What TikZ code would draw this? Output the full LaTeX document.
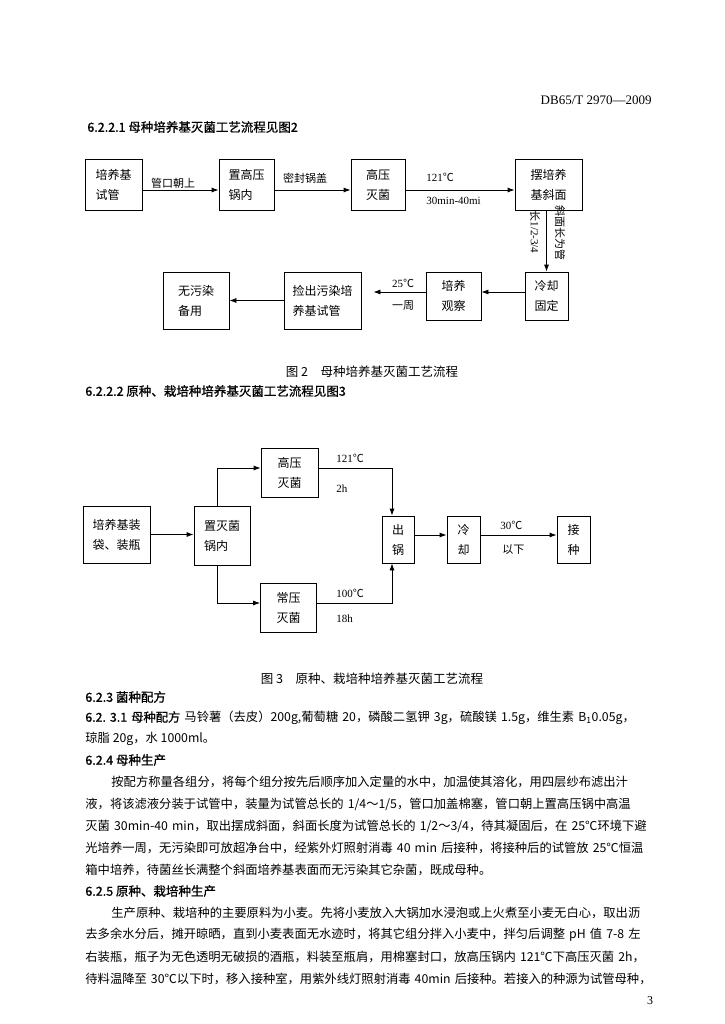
\documentclass[tikz,border=0pt]{standalone}
\usepackage{fontspec}
\setmainfont{Noto Sans CJK SC}
\newfontfamily\tmsfont{Liberation Serif}
\newfontfamily\hdfont{Noto Sans CJK SC}[FakeBold=1]
\usetikzlibrary{arrows.meta}
\XeTeXlinebreaklocale "zh"
\XeTeXlinebreakskip=0pt plus 3pt minus 1.5pt
\newcommand\boxfnt{\fontsize{12}{20}\selectfont}
\newcommand\lblfnt{\fontsize{11}{13}\selectfont}
\newcommand\headfnt{\hdfont\fontsize{12.5}{15}\selectfont}
\newcommand\bodyfnt{\fontsize{12.3}{22}\selectfont}
\newcommand\capfnt{\fontsize{12.5}{15}\selectfont}
\newcommand\tms[1]{{\tmsfont #1}}
\newcommand\jtext[1]{\parfillskip=0pt\noindent #1}

\begin{document}
\begin{tikzpicture}[
  x=1pt, y=-1pt,
  >={Latex[length=7pt,width=5pt]},
  line width=0.8pt,
  box/.style={draw, inner sep=0pt, align=left, font=\boxfnt},
  lbl/.style={inner sep=0pt, font=\lblfnt},
  vlbl/.style={lbl, rotate=-90},
  head/.style={anchor=west, inner sep=0pt, font=\headfnt},
  body/.style={anchor=west, inner sep=0pt, font=\bodyfnt},
  jline/.style={body, text width=567pt},
  figcap/.style={inner sep=0pt, font=\capfnt}
]
\fill[white] (0,0) rectangle (724,1024);
\useasboundingbox (0,0) rectangle (724,1024);

% Page header
\node[anchor=east, inner sep=0pt, font=\tmsfont\fontsize{13}{15}\selectfont] (docno) at (652,100) {DB65/T 2970—2009};
\node[head] (h1) at (87,127) {6.2.2.1 母种培养基灭菌工艺流程见图2};

% Figure 2
\node[box, minimum width=57pt, minimum height=51pt] (a1) at (113.5,184.5) {培养基\\试管};
\node[box, minimum width=55pt, minimum height=51pt] (a2) at (246.5,184.5) {置高压\\锅内};
\node[box, minimum width=54pt, minimum height=51pt] (a3) at (378,184.5) {高压\\灭菌};
\node[box, minimum width=67pt, minimum height=51pt] (a4) at (548.5,184.5) {摆培养\\基斜面};
\node[box, minimum width=43pt, minimum height=48pt] (a5) at (546.5,296) {冷却\\固定};
\node[box, minimum width=55pt, minimum height=48pt] (a6) at (453.5,296) {培养\\观察};
\node[box, minimum width=77pt, minimum height=57pt] (a7) at (322.5,300.5) {捡出污染培\\养基试管};
\node[box, minimum width=66pt, minimum height=57pt] (a8) at (196,300.5) {无污染\\备用};

\draw[->] ([yshift=-5.5pt]a1.east) -- ([yshift=-5.5pt]a2.west);
\draw[->] ([yshift=-5.5pt]a2.east) -- ([yshift=-5.5pt]a3.west);
\draw[->] ([yshift=-5.5pt]a3.east) -- ([yshift=-5.5pt]a4.west);
\draw[->] (a4.south -| a5.north) -- (a5.north);
\draw[->] ([yshift=4pt]a5.west) -- ([yshift=4pt]a6.east);
\draw[->, shorten >=12pt] ([yshift=4pt]a6.west) -- ([yshift=4pt]a6.west -| a7.east);
\draw[->] (a7.west) -- (a8.east);

\node[lbl] (l1) at (173,183) {管口朝上};
\node[lbl] (l2) at (305,178) {密封锅盖};
\node[lbl, anchor=west] (l3) at (426,177) {\tms{121}℃};
\node[lbl, anchor=west] (l4) at (426,201) {\tms{30min-40mi}};
\node[vlbl] (l5) at (535,232) {长\tms{1/2-3/4}};
\node[vlbl] (l6) at (560,233) {斜面长为管};
\node[lbl] (l7) at (403,283) {\tms{25}℃};
\node[lbl] (l8) at (403,306) {一周};

\node[figcap] (cap2) at (372,372) {图 2\quad 母种培养基灭菌工艺流程};
\node[head] (h2) at (85,391) {6.2.2.2 原种、栽培种培养基灭菌工艺流程见图3};

% Figure 3
\node[box, minimum width=67pt, minimum height=57pt] (b1) at (116.5,534.5) {培养基装\\袋、装瓶};
\node[box, minimum width=56pt, minimum height=59pt] (b2) at (222,535.5) {置灭菌\\锅内};
\node[box, minimum width=57pt, minimum height=49pt] (b3) at (289.5,472.5) {高压\\灭菌};
\node[box, minimum width=56pt, minimum height=49pt] (b4) at (288.5,607.5) {常压\\灭菌};
\node[box, minimum width=32pt, minimum height=47pt] (b5) at (398,539.5) {出\\锅};
\node[box, minimum width=33pt, minimum height=47pt] (b6) at (463.5,539.5) {冷\\却};
\node[box, minimum width=33pt, minimum height=47pt] (b7) at (573.5,539.5) {接\\种};

\draw[->] (b1.east) -- (b1.east -| b2.west);
\draw[->] ([xshift=-5pt]b2.north) |- ([yshift=4.5pt]b3.west);
\draw[->] ([xshift=-5pt]b2.south) |- ([yshift=4.5pt]b4.west);
\draw[->] ([yshift=4.5pt]b3.east) -| ([xshift=-6pt]b5.north);
\draw[->] ([yshift=4.5pt]b4.east) -| ([xshift=-6pt]b5.south);
\draw[->] ([yshift=4.5pt]b5.east) -- ([yshift=4.5pt]b6.west);
\draw[->] ([yshift=4.5pt]b6.east) -- ([yshift=4.5pt]b7.west);

\node[lbl, anchor=west] (m1) at (336,458) {\tms{121}℃};
\node[lbl, anchor=west] (m2) at (336,489) {\tms{2h}};
\node[lbl, anchor=west] (m3) at (336,593) {\tms{100}℃};
\node[lbl, anchor=west] (m4) at (336,619) {\tms{18h}};
\node[lbl, anchor=west] (m5) at (500,525) {\tms{30}℃};
\node[lbl, anchor=west] (m6) at (502,550) {以下};

\node[figcap] (cap3) at (372,679) {图 3\quad 原种、栽培种培养基灭菌工艺流程};

% Body text
\node[head] (h3) at (85,697) {6.2.3 菌种配方};
\node[jline] (t1) at (85,718) {\jtext{{\hdfont 6.2.\ 3.1 母种配方} 马铃薯（去皮）200g,葡萄糖 20，磷酸二氢钾 3g，硫酸镁 1.5g，维生素 B\textsubscript{1}0.05g，}};
\node[body] (t2) at (85,739) {琼脂 20g，水 1000ml。};
\node[head] (h4) at (85,760) {6.2.4 母种生产};
\node[body, text width=541pt] (t3) at (111,782) {\jtext{按配方称量各组分，将每个组分按先后顺序加入定量的水中，加温使其溶化，用四层纱布滤出汁}};
\node[jline] (t4) at (85,804) {\jtext{液，将该滤液分装于试管中，装量为试管总长的 1/4～1/5，管口加盖棉塞，管口朝上置高压锅中高温}};
\node[jline] (t5) at (85,826) {\jtext{灭菌 30min-40 min，取出摆成斜面，斜面长度为试管总长的 1/2～3/4，待其凝固后，在 25℃环境下避}};
\node[jline] (t6) at (85,848) {\jtext{光培养一周，无污染即可放超净台中，经紫外灯照射消毒 40 min 后接种，将接种后的试管放 25℃恒温}};
\node[body] (t7) at (85,870) {箱中培养，待菌丝长满整个斜面培养基表面而无污染其它杂菌，既成母种。};
\node[head] (h5) at (85,891) {6.2.5 原种、栽培种生产};
\node[body, text width=541pt] (t8) at (111,913) {\jtext{生产原种、栽培种的主要原料为小麦。先将小麦放入大锅加水浸泡或上火煮至小麦无白心，取出沥}};
\node[jline] (t9) at (85,935) {\jtext{去多余水分后，摊开晾晒，直到小麦表面无水迹时，将其它组分拌入小麦中，拌匀后调整 pH 值 7-8 左}};
\node[jline] (t10) at (85,957) {\jtext{右装瓶，瓶子为无色透明无破损的酒瓶，料装至瓶肩，用棉塞封口，放高压锅内 121℃下高压灭菌 2h，}};
\node[jline] (t11) at (85,979) {\jtext{待料温降至 30℃以下时，移入接种室，用紫外线灯照射消毒 40min 后接种。若接入的种源为试管母种，}};
\node[inner sep=0pt, font=\tmsfont\fontsize{12}{14}\selectfont] (pg) at (650,1001) {3};
\end{tikzpicture}
\end{document}
